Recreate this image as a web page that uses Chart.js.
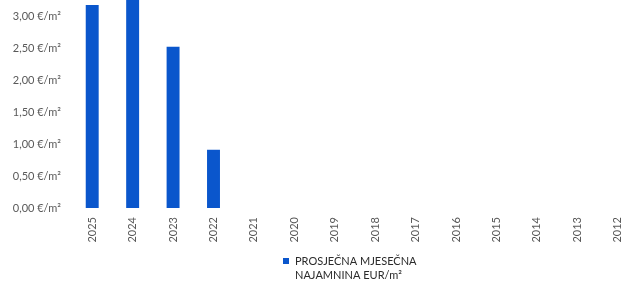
<!DOCTYPE html>
<html>
<head>
<meta charset="utf-8">
<script src="https://cdn.jsdelivr.net/npm/chart.js"></script>
<style>
  html, body { margin: 0; padding: 0; background: #fff; overflow: hidden; }
  #wrap { width: 640px; height: 288px; }
</style>
</head>
<body>
<div id="wrap"><canvas id="chart"></canvas></div>
<script>
// podaci s grafa
const years = ['2025', '2024', '2023', '2022', '2021', '2020', '2019', '2018', '2017', '2016', '2015', '2014', '2013', '2012'];
const rent = [3.17, 3.35, 2.52, 0.91, null, null, null, null, null, null, null, null, null, null];
const yTicks = [0, 0.5, 1, 1.5, 2, 2.5, 3];
const seriesLabel = ['PROSJEČNA MJESEČNA', 'NAJAMNINA EUR/m²'];

const barColor = '#0a56cc';
const font = "Lato, 'Open Sans', sans-serif";

// legenda ispod grafa (dva retka teksta)
const bottomLegend = {
  id: 'bottomLegend',
  afterDraw(chart) {
    const c = chart.ctx;
    const ds = chart.data.datasets[0];
    const x = 283, y = 261;
    c.save();
    c.fillStyle = ds.backgroundColor;
    c.fillRect(x, y - 3, 6, 6);
    c.fillStyle = '#2b2b2b';
    c.font = '11px ' + font;
    c.textBaseline = 'middle';
    c.textAlign = 'left';
    ds.label.forEach((line, i) => c.fillText(line, x + 12, y + i * 14.5));
    c.restore();
  }
};

let ctx = document.getElementById('chart').getContext('2d');
let chart = new Chart(ctx, {
  type: 'bar',
  data: {
    labels: years,
    datasets: [{
      label: seriesLabel,
      data: rent,
      backgroundColor: barColor,
      borderWidth: 0,
      barPercentage: 0.64,
      categoryPercentage: 0.5
    }]
  },
  plugins: [bottomLegend],
  options: {
    responsive: true,
    maintainAspectRatio: false,
    animation: false,
    layout: { padding: { top: 0, right: 0, bottom: 40, left: 0 } },
    plugins: {
      tooltip: { enabled: false },
      legend: { display: false }
    },
    scales: {
      x: {
        grid: { display: false, drawTicks: false },
        border: { display: false },
        afterFit: function (scale) {
          scale.height = 40;
        },
        ticks: {
          color: '#595959',
          font: { family: font, size: 11 },
          minRotation: 90,
          maxRotation: 90,
          padding: 9
        }
      },
      y: {
        min: 0,
        max: 3.25,
        grid: { display: false, drawTicks: false },
        border: { display: false },
        afterBuildTicks: function (scale) {
          scale.ticks = yTicks.map(v => ({ value: v }));
        },
        afterFit: function (scale) {
          scale.width = 72;
          scale.paddingTop = 0;
        },
        ticks: {
          color: '#595959',
          font: { family: font, size: 11 },
          padding: 11,
          callback: function (v) {
            return v.toFixed(2).replace('.', ',') + ' €/m²';
          }
        }
      }
    }
  }
});
</script>
</body>
</html>
